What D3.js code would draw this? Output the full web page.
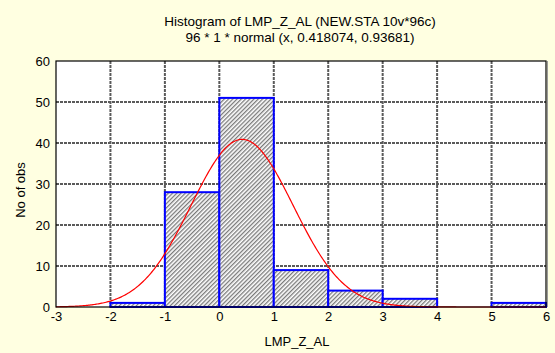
<!DOCTYPE html>
<html>
<head>
<meta charset="utf-8">
<script src="https://cdn.jsdelivr.net/npm/d3@7"></script>
<style>
  html, body { margin: 0; padding: 0; background: #FFFFE1; }
  svg { display: block; }
  text { font-family: "Liberation Sans", Arial, sans-serif; fill: #000; }
</style>
</head>
<body>
<svg id="chart" width="555" height="353"></svg>
<script>
// Histogram bins (lower edge, upper edge) and observed counts
const binStarts = [-3, -2, -1, 0, 1, 2, 3, 4, 5];
const binEnds   = [-2, -1, 0, 1, 2, 3, 4, 5, 6];
const counts    = [0, 1, 28, 51, 9, 4, 2, 0, 1];

// Fitted normal curve: N * binWidth * normal(x, mean, sd)
const nObs = 96, binWidth = 1, fitMean = 0.418074, fitSd = 0.93681;

const xTicks = [-3, -2, -1, 0, 1, 2, 3, 4, 5, 6];
const yTicks = [0, 10, 20, 30, 40, 50, 60];

const titleLines = [
  "Histogram of LMP_Z_AL (NEW.STA 10v*96c)",
  "96 * 1 * normal (x, 0.418074, 0.93681)"
];
const xLabel = "LMP_Z_AL";
const yLabel = "No of obs";

const svg = d3.select("#chart");
const plot = { left: 56, top: 61, right: 546, bottom: 307 };

const x = d3.scaleLinear().domain([-3, 6]).range([plot.left, plot.right]);
const y = d3.scaleLinear().domain([0, 60]).range([plot.bottom, plot.top]);

// Hatch fill for the bars
const defs = svg.append("defs");
const pat = defs.append("pattern")
  .attr("id", "hatch")
  .attr("patternUnits", "userSpaceOnUse")
  .attr("width", 3).attr("height", 3)
  .attr("patternTransform", "rotate(45)");
pat.append("rect").attr("width", 3).attr("height", 3).attr("fill", "#ffffff");
pat.append("rect").attr("width", 1.3).attr("height", 3).attr("fill", "#7a7a7a");

// Plot background
svg.append("rect")
  .attr("x", plot.left).attr("y", plot.top)
  .attr("width", plot.right - plot.left).attr("height", plot.bottom - plot.top)
  .attr("fill", "#ffffff");

// Grid lines
const grid = svg.append("g").attr("stroke", "#5a5a5a").attr("stroke-width", 2)
  .attr("stroke-dasharray", "3,1");
grid.selectAll(".gx").data(xTicks.slice(1, -1)).join("line")
  .attr("x1", d => x(d)).attr("x2", d => x(d))
  .attr("y1", plot.top).attr("y2", plot.bottom);
grid.selectAll(".gy").data(yTicks.slice(1, -1)).join("line")
  .attr("x1", plot.left).attr("x2", plot.right)
  .attr("y1", d => y(d)).attr("y2", d => y(d));

// Bars
const bins = binStarts.map((s, i) => ({ x0: s, x1: binEnds[i], n: counts[i] }));
svg.append("g").selectAll("rect").data(bins).join("rect")
  .attr("x", d => x(d.x0))
  .attr("y", d => y(d.n))
  .attr("width", d => x(d.x1) - x(d.x0))
  .attr("height", d => y(0) - y(d.n))
  .attr("fill", "url(#hatch)")
  .attr("stroke", "#0000ff")
  .attr("stroke-width", 2);

// Normal curve
const pdf = v => nObs * binWidth * Math.exp(-0.5 * ((v - fitMean) / fitSd) ** 2) / (fitSd * Math.sqrt(2 * Math.PI));
const curveX = d3.range(-3, 6.0001, 0.02);
svg.append("path")
  .datum(curveX)
  .attr("fill", "none")
  .attr("stroke", "#ff0000")
  .attr("stroke-width", 1.2)
  .attr("d", d3.line().x(d => x(d)).y(d => y(pdf(d))));

// Frame
svg.append("rect")
  .attr("x", plot.left).attr("y", plot.top)
  .attr("width", plot.right - plot.left).attr("height", plot.bottom - plot.top)
  .attr("fill", "none").attr("stroke", "#000").attr("stroke-width", 1.2);
svg.append("line")
  .attr("x1", plot.right + 1.5).attr("x2", plot.right + 1.5)
  .attr("y1", plot.top).attr("y2", plot.bottom)
  .attr("stroke", "#9a9a9a").attr("stroke-width", 1);

// Axes (labels only; the frame serves as axis line)
const xAxis = svg.append("g").attr("transform", `translate(0,${plot.bottom})`)
  .call(d3.axisBottom(x).tickValues(xTicks).tickSize(0).tickPadding(5).tickFormat(d3.format("d")));
const yAxis = svg.append("g").attr("transform", `translate(${plot.left},0)`)
  .call(d3.axisLeft(y).tickValues(yTicks).tickSize(0).tickPadding(6).tickFormat(d3.format("d")));
[xAxis, yAxis].forEach(a => {
  a.select(".domain").remove();
  a.selectAll("text").attr("font-size", 13).attr("font-family", "Liberation Sans, Arial, sans-serif").attr("fill", "#000");
});
xAxis.selectAll("text").text(d => d < 0 ? "-" + Math.abs(d) : d);

// Titles
svg.append("g").selectAll("text").data(titleLines).join("text")
  .attr("x", (plot.left + plot.right) / 2 - 1)
  .attr("y", (d, i) => 25.5 + i * 16.5)
  .attr("text-anchor", "middle")
  .attr("font-size", 13.5)
  .text(d => d);

svg.append("text")
  .attr("x", (plot.left + plot.right) / 2 - 4).attr("y", 346)
  .attr("text-anchor", "middle").attr("font-size", 13)
  .text(xLabel);

svg.append("text")
  .attr("transform", `translate(25,190) rotate(-90)`)
  .attr("text-anchor", "middle").attr("font-size", 13)
  .text(yLabel);
</script>
</body>
</html>
